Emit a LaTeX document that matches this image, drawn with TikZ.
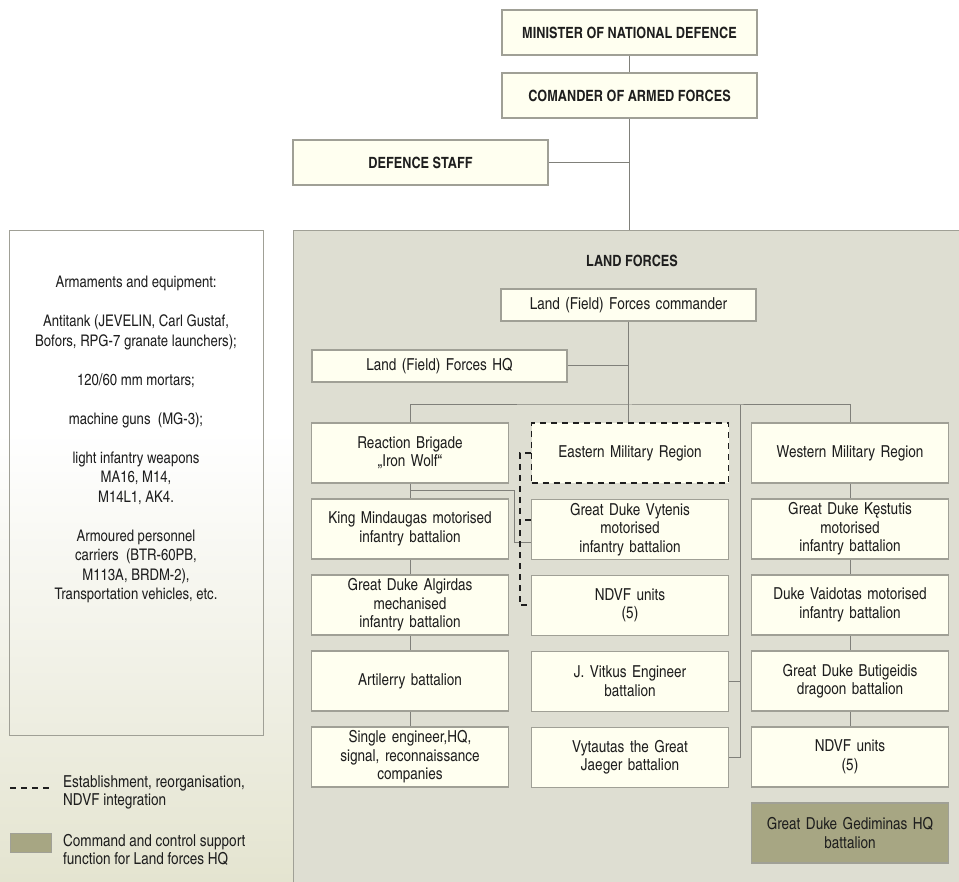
\documentclass[tikz,border=0pt]{standalone}
\usepackage{fontspec}
\setmainfont{texgyreheroscn}[Extension=.otf, UprightFont=*-regular, BoldFont=*-bold]
\usetikzlibrary{positioning, calc}

\definecolor{panelgrey}{RGB}{222,222,210}
\definecolor{boxcream}{RGB}{255,255,240}
\definecolor{boxline}{RGB}{160,160,150}
\definecolor{linkgrey}{RGB}{128,128,122}
\definecolor{olive}{RGB}{167,166,131}
\definecolor{paper}{RGB}{228,228,208}
\definecolor{inkdark}{RGB}{30,30,30}

\newcommand{\unitfont}{\fontsize{16.5pt}{18.5pt}\selectfont}
\newcommand{\headfont}{\fontsize{15.5pt}{18pt}\selectfont\bfseries}

\begin{document}
\begin{tikzpicture}[
  x=1pt, y=-1pt,
  unit/.style={draw=boxline, line width=1.3pt, fill=boxcream, text width=190pt,
               minimum width=197pt, minimum height=60pt, align=center,
               font=\unitfont, text=inkdark, inner sep=3pt},
  head/.style={draw=boxline, line width=1.3pt, fill=boxcream, minimum width=255pt,
               minimum height=45pt, font=\headfont, text=inkdark},
  wide/.style={unit, minimum width=255pt, text width=248pt, minimum height=32pt},
  support/.style={unit, fill=olive},
  link/.style={draw=linkgrey, line width=1pt},
  plan/.style={draw=inkdark, line width=1.8pt, dash pattern=on 6pt off 5pt},
  keytext/.style={font=\unitfont, text=inkdark, align=left, anchor=west, inner sep=0pt},
  node distance=14.7pt
]
\useasboundingbox (0,0) rectangle (959,882);
\fill[white] (0,0) rectangle (959,882);
\shade[top color=white, bottom color=paper] (0,430) rectangle (293,882);

% land forces panel and equipment list
\node[draw=boxline, line width=1.3pt, fill=panelgrey, minimum width=700pt,
      minimum height=700pt, anchor=north west, inner sep=0pt] (land) at (293,230) {};
\node[draw=boxline, line width=1pt, minimum width=254pt, minimum height=505pt,
      anchor=north west, inner sep=0pt] (armbox) at (9,230) {};
\node[font=\fontsize{16pt}{19.5pt}\selectfont, text=inkdark, align=center,
      anchor=north, inner sep=0pt] (armtext) at (136,276)
  {Armaments and equipment:\\[19.5pt]
   Antitank (JEVELIN, Carl Gustaf,\\
   Bofors, RPG-7 granate launchers);\\[19.5pt]
   120/60 mm mortars;\\[19.5pt]
   machine guns\ \ (MG-3);\\[19.5pt]
   light infantry weapons\\
   MA16, M14,\\
   M14L1, AK4.\\[19.5pt]
   Armoured personnel\\
   carriers\ \ (BTR-60PB,\\
   M113A, BRDM-2),\\
   Transportation vehicles, etc.};

% top command
\node[head] (minister) at (629.5,32.5) {MINISTER OF NATIONAL DEFENCE};
\node[head, below=16.7pt of minister] (chief) {COMANDER OF ARMED FORCES};
\node[head] (staff) at (420.5,162.5) {DEFENCE STAFF};

\node[font=\headfont, text=inkdark] (landtitle) at (632,261) {LAND FORCES};
\node[wide] (lfcmd) at (628.5,305) {Land (Field) Forces commander};
\node[wide] (lfhq) at (439.5,366) {Land (Field) Forces HQ};

% brigade column
\node[unit] (rb) at (410,453) {Reaction Brigade\\„Iron Wolf“};
\node[unit, below=of rb] (km) {King Mindaugas motorised\\infantry battalion};
\node[unit, below=of km] (gda) {Great Duke Algirdas\\mechanised\\infantry battalion};
\node[unit, below=of gda] (art) {Artilerry battalion};
\node[unit, below=of art] (seng) {Single engineer,HQ,\\signal, reconnaissance\\companies};

% eastern column
\node[unit, plan] (emr) at (630,453) {Eastern Military Region};
\node[unit, below=of emr] (gdv) {Great Duke Vytenis\\motorised\\infantry battalion};
\node[unit, below=of gdv] (ndA) {NDVF units\\(5)};
\node[unit, below=of ndA] (jv) {J. Vitkus Engineer\\battalion};
\node[unit, below=of jv] (vtg) {Vytautas the Great\\Jaeger battalion};

% western column
\node[unit] (wmr) at (850,453) {Western Military Region};
\node[unit, below=of wmr] (gdk) {Great Duke Kęstutis\\motorised\\infantry battalion};
\node[unit, below=of gdk] (dv) {Duke Vaidotas motorised\\infantry battalion};
\node[unit, below=of dv] (gdb) {Great Duke Butigeidis\\dragoon battalion};
\node[unit, below=of gdb] (ndB) {NDVF units\\(5)};
\node[support, below=of ndB] (gdg) {Great Duke Gediminas HQ\\battalion};

\draw[link] (minister) -- (chief);
\draw[link] (chief) -- (chief |- land.north);
\draw[link] (staff) -- (staff -| chief);
\draw[link] (lfcmd) -- (lfcmd |- emr.north);
\draw[link] (lfhq) -- (lfhq -| lfcmd);

\coordinate (bus) at (630,405);
\coordinate (busR) at (740,405);
\draw[link] (rb.north) |- (bus) -| (wmr.north);
\draw[link] (busR) |- (jv.east);
\draw[link] (busR) |- (vtg.east);
\draw[link] (rb) -- (km) -- (gda) -- (art) -- (seng);
\draw[link] (wmr) -- (gdk) -- (dv) -- (gdb) -- (ndB);

\coordinate (rbtap) at ($(rb.south)!0.5!(km.north)$);
\draw[link] (rbtap) -| ([xshift=-16pt,yshift=-13pt]gdv.west) -- ([yshift=-13pt]gdv.west);
\draw[plan] (emr.west) -- ++(-11,0) |- (ndA.west);
\draw[plan] ([yshift=9pt]gdv.west) -- ++(-11,0);

% legend
\draw[plan] (10,788) -- (52,788);
\node[keytext] (keyplan) at (63,792.5) {Establishment, reorganisation,\\NDVF integration};
\node[draw=boxline, line width=1pt, fill=olive, minimum width=41pt, minimum height=19pt,
      inner sep=0pt] (keybox) at (30.5,842.5) {};
\node[keytext] (keysupport) at (63,850) {Command and control support\\function for Land forces HQ};

\end{tikzpicture}
\end{document}
